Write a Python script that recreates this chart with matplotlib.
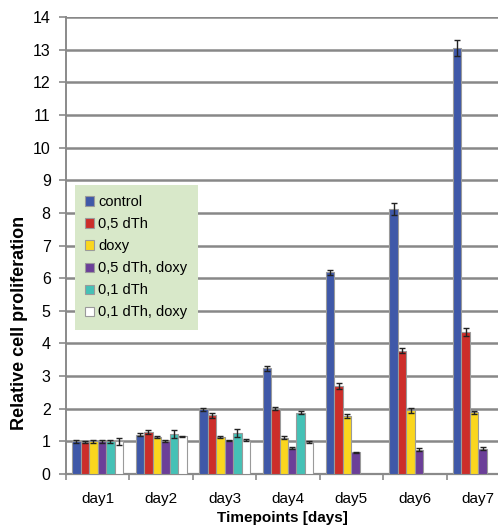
import numpy as np
import matplotlib
matplotlib.use("Agg")
import matplotlib.pyplot as plt

plt.rcParams['font.family'] = ['Liberation Sans', 'DejaVu Sans']

days = ["day1", "day2", "day3", "day4", "day5", "day6", "day7"]
series = ["control", "0,5 dTh", "doxy", "0,5 dTh, doxy", "0,1 dTh", "0,1 dTh, doxy"]
colors = ["#3f58a8", "#cc2e2a", "#fad61e", "#6b3f98", "#45c1b6", "#ffffff"]

nan = np.nan
control = [1.00, 1.20, 1.98, 3.24, 6.18, 8.12, 13.05]
dth05 = [0.98, 1.28, 1.80, 2.00, 2.70, 3.78, 4.35]
doxy = [1.00, 1.12, 1.13, 1.11, 1.77, 1.95, 1.89]
dth05_doxy = [1.00, 1.02, 1.02, 0.80, 0.66, 0.74, 0.78]
dth01 = [1.00, 1.22, 1.25, 1.88, nan, nan, nan]
dth01_doxy = [1.00, 1.15, 1.05, 0.97, nan, nan, nan]

err_control = [0.05, 0.05, 0.05, 0.08, 0.07, 0.18, 0.25]
err_dth05 = [0.03, 0.06, 0.08, 0.05, 0.10, 0.08, 0.12]
err_doxy = [0.05, 0.03, 0.03, 0.04, 0.06, 0.08, 0.04]
err_dth05_doxy = [0.04, 0.03, 0.02, 0.03, 0.02, 0.05, 0.06]
err_dth01 = [0.05, 0.12, 0.12, 0.05, nan, nan, nan]
err_dth01_doxy = [0.10, 0.02, 0.03, 0.03, nan, nan, nan]

values = [control, dth05, doxy, dth05_doxy, dth01, dth01_doxy]
errors = [err_control, err_dth05, err_doxy, err_dth05_doxy, err_dth01, err_dth01_doxy]

fig = plt.figure(figsize=(4.98, 5.26), dpi=100)
ax = fig.add_axes([66 / 498, 1 - 474 / 526, 444 / 498, 457 / 526])

x = np.arange(len(days))
w = 0.134
for i, (name, vals, errs, c) in enumerate(zip(series, values, errors, colors)):
    ax.bar(x + (i - 2.5) * w, vals, w, color=c, edgecolor="#9a9a9a", linewidth=0.8,
           label=name, zorder=3)
    ax.errorbar(x + (i - 2.5) * w, vals, yerr=errs, fmt="none", ecolor="#222222",
                elinewidth=1.0, capsize=2, capthick=1.0, zorder=4)

ax.set_xlim(-0.5, 6.5)
ax.set_ylim(0, 14)
ax.set_yticks(range(0, 15))
ax.yaxis.grid(True, color="#888888", linewidth=1.8, zorder=0)
ax.set_axisbelow(True)

ax.set_xticks(x)
ax.set_xticklabels(days, fontsize=11)
ax.set_xticks(np.arange(-0.5, 7.0, 1.0), minor=True)
ax.tick_params(axis="x", which="major", length=0, pad=13)
ax.tick_params(axis="x", which="minor", length=4, color="#8a8a8a", width=1.2)
ax.tick_params(axis="y", length=5, color="#8a8a8a", width=1.2, labelsize=11.5, pad=6)

for s in ["top", "right"]:
    ax.spines[s].set_visible(False)
ax.spines["left"].set_color("#8a8a8a")
ax.spines["left"].set_linewidth(1.4)
ax.spines["bottom"].set_color("#8a8a8a")
ax.spines["bottom"].set_linewidth(1.6)

ax.set_ylabel("Relative cell proliferation", fontsize=13, fontweight="bold")
ax.yaxis.set_label_coords(-0.085, 0.33)
ax.set_xlabel("Timepoints [days]", fontsize=11, fontweight="bold")
ax.xaxis.set_label_coords(0.487, -0.081)

leg = ax.legend(loc="upper left", bbox_to_anchor=(75 / 498, 1 - 185 / 526),
                bbox_transform=fig.transFigure, fontsize=10.5, frameon=True,
                facecolor="#d8e8c9", edgecolor="none", fancybox=False,
                handlelength=0.6, handleheight=0.6, handletextpad=0.3,
                labelspacing=0.55, borderpad=0.7, borderaxespad=0)
leg.get_frame().set_alpha(1)

fig.savefig("out.png", dpi=100)
